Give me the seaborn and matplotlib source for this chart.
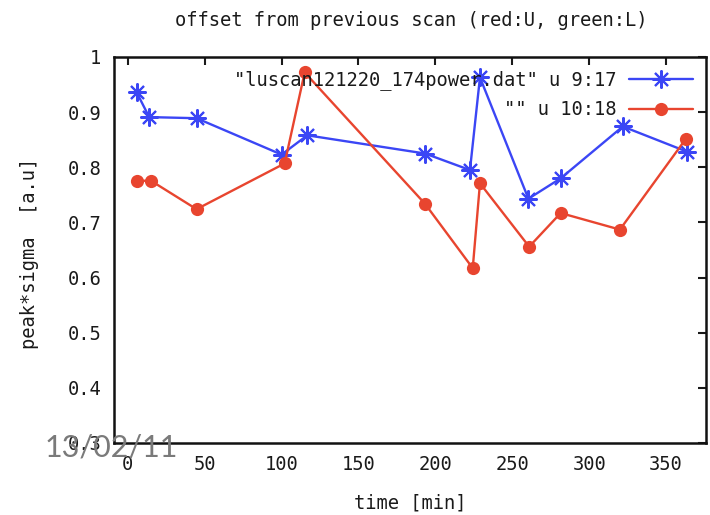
import matplotlib
matplotlib.use("Agg")
import matplotlib.pyplot as plt
import seaborn as sns
import numpy as np

# data
blue_x = [5.7, 13.9, 44.7, 100.0, 116.7, 193.2, 222.5, 229.0, 260.5, 281.5, 321.9, 363.9]
blue_y = [0.936, 0.891, 0.889, 0.823, 0.858, 0.825, 0.795, 0.963, 0.743, 0.780, 0.874, 0.828]
red_x = [5.7, 14.8, 44.7, 102.0, 115.0, 193.2, 224.3, 229.0, 261.0, 281.5, 320.0, 363.0]
red_y = [0.775, 0.776, 0.724, 0.807, 0.972, 0.734, 0.617, 0.771, 0.656, 0.717, 0.687, 0.852]

label_blue = '"luscan121220_174power.dat" u 9:17'
label_red = '"" u 10:18'
x_ticks = [0, 50, 100, 150, 200, 250, 300, 350]
y_ticks = [0.3, 0.4, 0.5, 0.6, 0.7, 0.8, 0.9, 1.0]
y_ticklabels = ["0.3", "0.4", "0.5", "0.6", "0.7", "0.8", "0.9", "1"]
title = "offset from previous scan (red:U, green:L)"
xlabel = "time [min]"
ylabel = "peak*sigma  [a.u]"
watermark = "13/02/11"

sns.set_style("white")
MONO = ["DejaVu Sans Mono"]
plt.rcParams["font.family"] = MONO

fig = plt.figure(figsize=(7.1, 5.15), dpi=100)
W, H = 710, 515
left, right, top, bottom = 114, 706, 57, 443
ax = fig.add_axes([left / W, 1 - bottom / H, (right - left) / W, (bottom - top) / H])

BLUE = "#3b46f5"
RED = "#e8452f"
TXT = "#1a1a1a"
sns.lineplot(x=blue_x, y=blue_y, ax=ax, sort=False, estimator=None, color=BLUE,
             lw=1.7, marker=(8, 2, 0), markersize=13, markeredgewidth=1.5,
             markeredgecolor=BLUE, label=label_blue)
sns.lineplot(x=red_x, y=red_y, ax=ax, sort=False, estimator=None, color=RED,
             lw=1.7, marker="o", markersize=9.5, markeredgewidth=0,
             label=label_red.rjust(len(label_blue)))

ax.set_xlim(-9, 376)
ax.set_ylim(0.3, 1.0)
ax.set_xticks(x_ticks)
ax.set_xticklabels([str(t) for t in x_ticks])
ax.set_yticks(y_ticks)
ax.set_yticklabels(y_ticklabels)
ax.tick_params(direction="in", length=6, width=1.5, top=True, right=True,
               labelsize=13.5, colors=TXT, pad=9)
for s in ax.spines.values():
    s.set_visible(True)
    s.set_color("#111111")
    s.set_linewidth(1.8)
ax.set_xlabel("")
ax.set_ylabel("")

leg = ax.legend(loc="upper right", markerfirst=False, frameon=False,
                prop={"family": MONO, "size": 13.5}, handlelength=3.4,
                handletextpad=0.7, borderaxespad=0.3, labelspacing=0.55)
for t in leg.get_texts():
    t.set_color(TXT)

fig.text(411 / W, 1 - 20 / H, title, ha="center", va="center", fontsize=13.5,
         family=MONO, color=TXT)
fig.text(410 / W, 1 - 503 / H, xlabel, ha="center", va="center", fontsize=13.5,
         family=MONO, color=TXT)
fig.text(30 / W, 1 - 253 / H, ylabel, ha="center", va="center", fontsize=13.5,
         family=MONO, color=TXT, rotation=90)
fig.text(45 / W, 1 - 448 / H, watermark, ha="left", va="center", fontsize=22,
         family=["Lato", "DejaVu Sans"], color="#7a7a7a", zorder=10)

fig.savefig("out.png", dpi=100)
